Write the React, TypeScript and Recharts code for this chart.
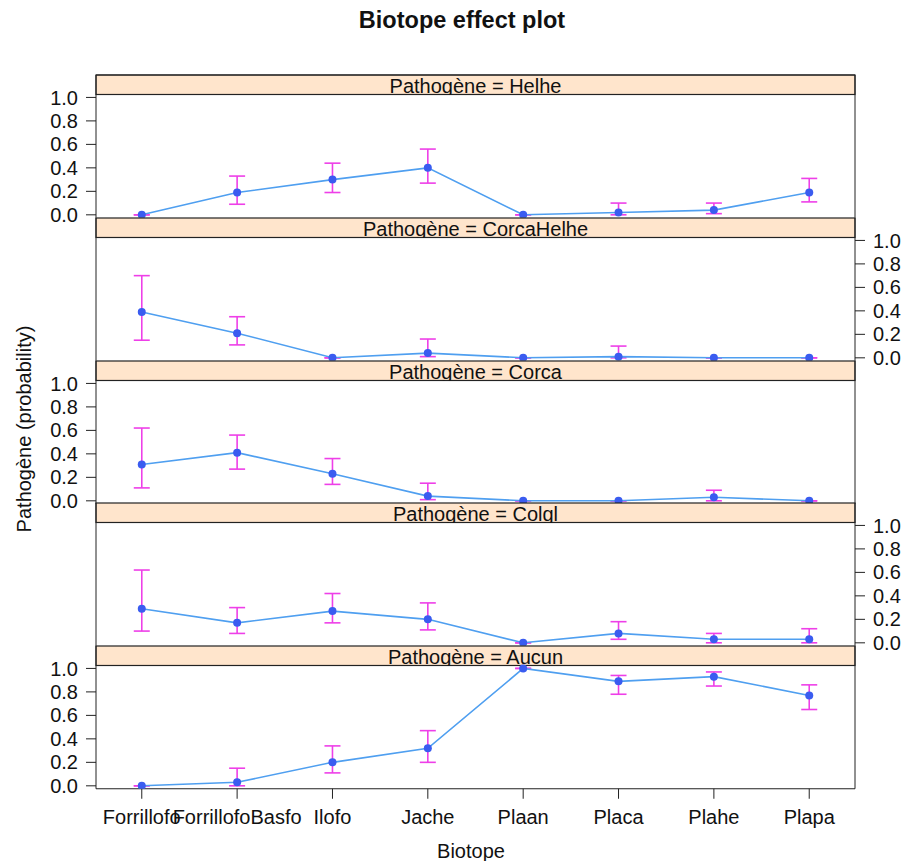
import React from "react";
import {
  LineChart,
  Line,
  XAxis,
  YAxis,
  ErrorBar,
  ReferenceArea,
} from "recharts";

const biotopes = [
  "Forrillofo",
  "ForrillofoBasfo",
  "Ilofo",
  "Jache",
  "Plaan",
  "Placa",
  "Plahe",
  "Plapa",
];
const xTicks = [1, 2, 3, 4, 5, 6, 7, 8];
const yTicks = [0, 0.2, 0.4, 0.6, 0.8, 1.0];

// fitted probabilities and confidence limits
const helheFit = [0.0, 0.19, 0.3, 0.4, 0.0, 0.02, 0.04, 0.19];
const helheLow = [0.0, 0.09, 0.19, 0.27, 0.0, 0.0, 0.01, 0.11];
const helheUp = [0.0, 0.33, 0.44, 0.56, 0.0, 0.1, 0.1, 0.31];

const corcaHelheFit = [0.39, 0.21, 0.0, 0.04, 0.0, 0.01, 0.0, 0.0];
const corcaHelheLow = [0.15, 0.11, 0.0, 0.01, 0.0, 0.0, 0.0, 0.0];
const corcaHelheUp = [0.7, 0.35, 0.0, 0.16, 0.0, 0.1, 0.0, 0.0];

const corcaFit = [0.31, 0.41, 0.23, 0.04, 0.0, 0.0, 0.03, 0.0];
const corcaLow = [0.11, 0.27, 0.14, 0.01, 0.0, 0.0, 0.0, 0.0];
const corcaUp = [0.62, 0.56, 0.36, 0.15, 0.0, 0.0, 0.09, 0.0];

const colglFit = [0.29, 0.17, 0.27, 0.2, 0.0, 0.08, 0.03, 0.03];
const colglLow = [0.1, 0.08, 0.17, 0.11, 0.0, 0.03, 0.0, 0.0];
const colglUp = [0.62, 0.3, 0.42, 0.34, 0.0, 0.18, 0.08, 0.12];

const aucunFit = [0.0, 0.03, 0.2, 0.32, 1.0, 0.89, 0.93, 0.77];
const aucunLow = [0.0, 0.0, 0.11, 0.2, 1.0, 0.78, 0.85, 0.65];
const aucunUp = [0.0, 0.15, 0.34, 0.47, 1.0, 0.94, 0.97, 0.86];

const panels = [
  { name: "Helhe", fit: helheFit, low: helheLow, up: helheUp },
  { name: "CorcaHelhe", fit: corcaHelheFit, low: corcaHelheLow, up: corcaHelheUp },
  { name: "Corca", fit: corcaFit, low: corcaLow, up: corcaUp },
  { name: "Colgl", fit: colglFit, low: colglLow, up: colglUp },
  { name: "Aucun", fit: aucunFit, low: aucunLow, up: aucunUp },
];

const FONT = '"Liberation Sans", Arial, sans-serif';
const INK = "#222";
const X_DOMAIN: [number, number] = [0.52, 8.48];
const Y_LO = -0.025;
const Y_PLOT_HI = 1.025;
const Y_HI = 1.191; // extra room on top for the strip
const PANEL_TOP = 75;
const PANEL_H = 142.75;
const FRAME_LEFT = 96;
const FRAME_W = 759;
const AXIS_W = 50;

const buildRows = (fit: number[], low: number[], up: number[]) =>
  biotopes.map((b, i) => ({
    x: i + 1,
    biotope: b,
    fit: fit[i],
    err: [fit[i] - low[i], up[i] - fit[i]],
  }));

const Strip = (props: any) => {
  const { x, y, width, height, label, id } = props;
  return (
    <g>
      <defs>
        <clipPath id={id}>
          <rect x={x} y={y} width={width} height={height} />
        </clipPath>
      </defs>
      <rect
        x={x}
        y={y}
        width={width}
        height={height}
        fill="#ffe5cc"
        stroke={INK}
        strokeWidth={1.2}
      />
      <text
        x={x + width / 2}
        y={y + height - 1}
        textAnchor="middle"
        fontSize={20}
        fontFamily={FONT}
        fill="#111"
        clipPath={`url(#${id})`}
      >
        {label}
      </text>
    </g>
  );
};

const Panel = ({ idx }: { idx: number }) => {
  const p = panels[idx];
  const data = buildRows(p.fit, p.low, p.up);
  const first = idx === 0;
  const last = idx === panels.length - 1;
  const labelsLeft = idx % 2 === 0;
  const top = PANEL_TOP + idx * PANEL_H - 20;
  const tickStyle = { fontSize: 20, fontFamily: FONT, fill: "#111" };

  return (
    <div style={{ position: "absolute", left: FRAME_LEFT - AXIS_W, top }}>
      <LineChart
        width={FRAME_W + AXIS_W * 2}
        height={PANEL_H + 20 + 45}
        data={data}
        margin={{ top: first ? 0 : 20, right: 0, left: 0, bottom: last ? 0 : 45 }}
      >
        {first && (
          <XAxis
            xAxisId="x"
            dataKey="x"
            type="number"
            orientation="top"
            domain={X_DOMAIN}
            allowDataOverflow
            ticks={xTicks}
            interval={0}
            height={20}
            tick={false}
            tickSize={10}
            stroke={INK}
          />
        )}
        {last && (
          <XAxis
            xAxisId="x"
            dataKey="x"
            type="number"
            domain={X_DOMAIN}
            allowDataOverflow
            ticks={xTicks}
            interval={0}
            height={45}
            tickSize={10}
            tickMargin={11}
            tick={tickStyle}
            tickFormatter={(v: number) => biotopes[v - 1]}
            stroke={INK}
          />
        )}
        {!first && !last && (
          <XAxis
            xAxisId="x"
            dataKey="x"
            type="number"
            domain={X_DOMAIN}
            allowDataOverflow
            hide
          />
        )}
        <YAxis
          yAxisId="l"
          orientation="left"
          type="number"
          domain={[Y_LO, Y_HI]}
          allowDataOverflow
          ticks={yTicks}
          interval={0}
          width={AXIS_W}
          tickSize={10}
          tickMargin={8}
          tick={labelsLeft ? tickStyle : false}
          tickFormatter={(v: number) => v.toFixed(1)}
          stroke={INK}
        />
        <YAxis
          yAxisId="r"
          orientation="right"
          type="number"
          domain={[Y_LO, Y_HI]}
          allowDataOverflow
          ticks={yTicks}
          interval={0}
          width={AXIS_W}
          tickSize={10}
          tickMargin={8}
          tick={labelsLeft ? false : tickStyle}
          tickFormatter={(v: number) => v.toFixed(1)}
          stroke={INK}
        />
        <ReferenceArea
          xAxisId="x"
          yAxisId="l"
          x1={X_DOMAIN[0]}
          x2={X_DOMAIN[1]}
          y1={Y_PLOT_HI}
          y2={Y_HI}
          shape={(sp: any) => (
            <Strip {...sp} id={`strip-${idx}`} label={`Pathogène = ${p.name}`} />
          )}
        />
        <Line
          xAxisId="x"
          yAxisId="l"
          dataKey="fit"
          type="linear"
          stroke="#4f9ff0"
          strokeWidth={1.6}
          dot={{ r: 4, fill: "#3a5cf0", stroke: "#3a5cf0", strokeWidth: 0 }}
          activeDot={false}
          isAnimationActive={false}
        >
          <ErrorBar
            dataKey="err"
            direction="y"
            width={8}
            stroke="#ee3fe8"
            strokeWidth={1.6}
            isAnimationActive={false}
          />
        </Line>
      </LineChart>
    </div>
  );
};

const App = () => {
  return (
    <div
      style={{
        position: "absolute",
        left: 0,
        top: 0,
        width: 905,
        height: 861,
        background: "#fff",
        fontFamily: FONT,
      }}
    >
      {panels.map((_, i) => (
        <Panel key={i} idx={i} />
      ))}
      <svg
        width={905}
        height={861}
        style={{ position: "absolute", left: 0, top: 0, pointerEvents: "none" }}
      >
        <text
          x={462}
          y={28}
          textAnchor="middle"
          fontSize={23.5}
          fontWeight="bold"
          fontFamily={FONT}
          fill="#111"
        >
          Biotope effect plot
        </text>
        <text
          x={31}
          y={429}
          transform="rotate(-90 31 429)"
          textAnchor="middle"
          fontSize={20}
          fontFamily={FONT}
          fill="#111"
        >
          Pathogène (probability)
        </text>
        <text
          x={471}
          y={858}
          textAnchor="middle"
          fontSize={20}
          fontFamily={FONT}
          fill="#111"
        >
          Biotope
        </text>
      </svg>
    </div>
  );
};

export default App;
